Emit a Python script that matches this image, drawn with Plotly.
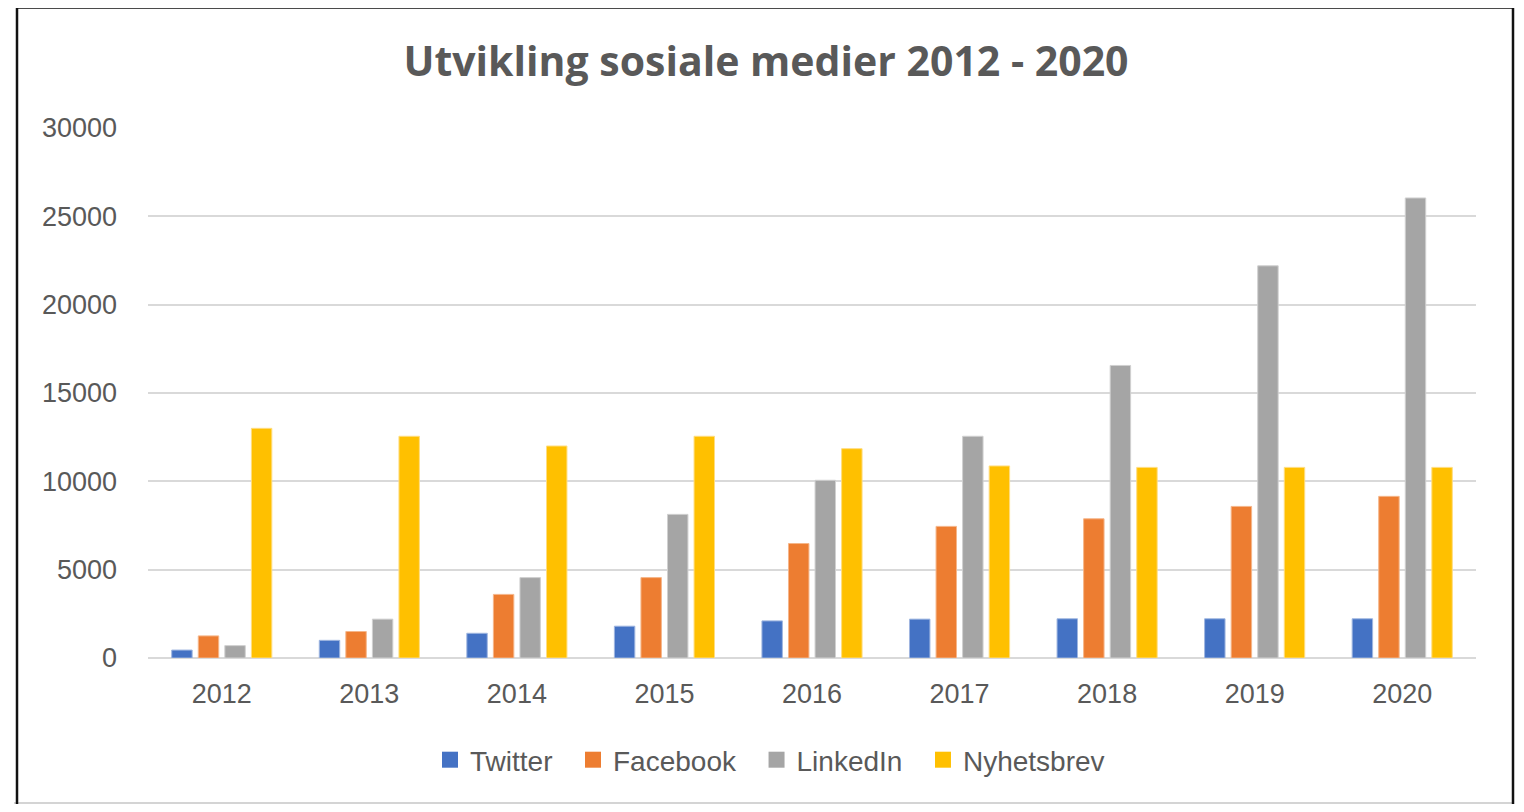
import plotly.graph_objects as go

years = ["2012", "2013", "2014", "2015", "2016", "2017", "2018", "2019", "2020"]
twitter = [450, 1000, 1400, 1800, 2100, 2200, 2220, 2220, 2220]
facebook = [1250, 1500, 3600, 4550, 6480, 7450, 7880, 8580, 9150]
linkedin = [700, 2200, 4550, 8130, 10060, 12550, 16560, 22200, 26040]
nyhetsbrev = [13000, 12550, 12000, 12550, 11850, 10870, 10790, 10790, 10790]
y_ticks = [0, 5000, 10000, 15000, 20000, 25000, 30000]

series = [
    ("Twitter", twitter, "#4472C4", "#9FB6E0"),
    ("Facebook", facebook, "#ED7D31", "#F5B68A"),
    ("LinkedIn", linkedin, "#A5A5A5", "#D0D0D0"),
    ("Nyhetsbrev", nyhetsbrev, "#FFC000", "#FFDD80"),
]

W, H = 1508, 796          # page has an 8px body margin
L, R, T, B = 140, 40, 120, 146

fig = go.Figure()
for name, vals, col, edge in series:
    fig.add_trace(go.Bar(
        x=years, y=vals, name=name, showlegend=False,
        marker=dict(color=col, line=dict(color=edge, width=1)),
    ))
# legend entries with larger square swatches
for i, (name, vals, col, edge) in enumerate(series):
    pad = "" if i == len(series) - 1 else "\u00a0\u00a0"
    fig.add_trace(go.Scatter(
        x=[None], y=[None], mode="markers", name=name + pad,
        marker=dict(symbol="square", size=16, color=col, line=dict(width=0)),
    ))

font_family = "Liberation Sans, Arial, sans-serif"
fig.update_layout(
    width=W, height=H,
    margin=dict(l=L, r=R, t=T, b=B),
    paper_bgcolor="white", plot_bgcolor="white",
    barmode="group", bargap=0.28, bargroupgap=0.23,
    title=dict(
        text="<b>Utvikling sosiale medier 2012 - 2020</b>",
        xref="container", yref="container",
        x=758 / W, y=1 - 54 / H, xanchor="center", yanchor="middle",
        font=dict(family="Open Sans, sans-serif", size=41, color="#595959"),
    ),
    font=dict(family=font_family, color="#595959"),
    showlegend=True,
    legend=dict(
        orientation="h",
        xref="container", yref="container",
        x=762 / W, y=1 - 752 / H, xanchor="center", yanchor="middle",
        font=dict(size=28, color="#595959"),
        traceorder="normal",
        itemwidth=30,
    ),
)
fig.update_xaxes(
    showgrid=False, showline=False, ticks="",
    tickfont=dict(size=27, color="#595959"),
    ticklabelstandoff=17,
)
fig.update_yaxes(
    range=[0, 30000], tickvals=y_ticks, tickformat="d",
    showgrid=True, gridcolor="#D9D9D9", gridwidth=1.5,
    zeroline=True, zerolinecolor="#D9D9D9", zerolinewidth=1.5,
    showline=False, ticks="",
    tickfont=dict(size=27, color="#595959"),
    ticklabelstandoff=30,
)

# outer frame (chart border) and spreadsheet cell line at the bottom (figure px coords)
px_x = lambda px: (px - L) / (W - L - R)
px_y = lambda py: (H - B - py) / (H - T - B)
fig.add_shape(type="line", xref="paper", yref="paper",
              x0=px_x(6), x1=px_x(1506), y0=px_y(795), y1=px_y(795),
              line=dict(color="#D4D4D4", width=2), layer="below")
fig.add_shape(type="rect", xref="paper", yref="paper",
              x0=px_x(9), x1=px_x(1505), y0=px_y(-0.5), y1=px_y(840),
              line=dict(color="#111111", width=2.5), fillcolor="rgba(0,0,0,0)")

fig.write_html("out.html")
